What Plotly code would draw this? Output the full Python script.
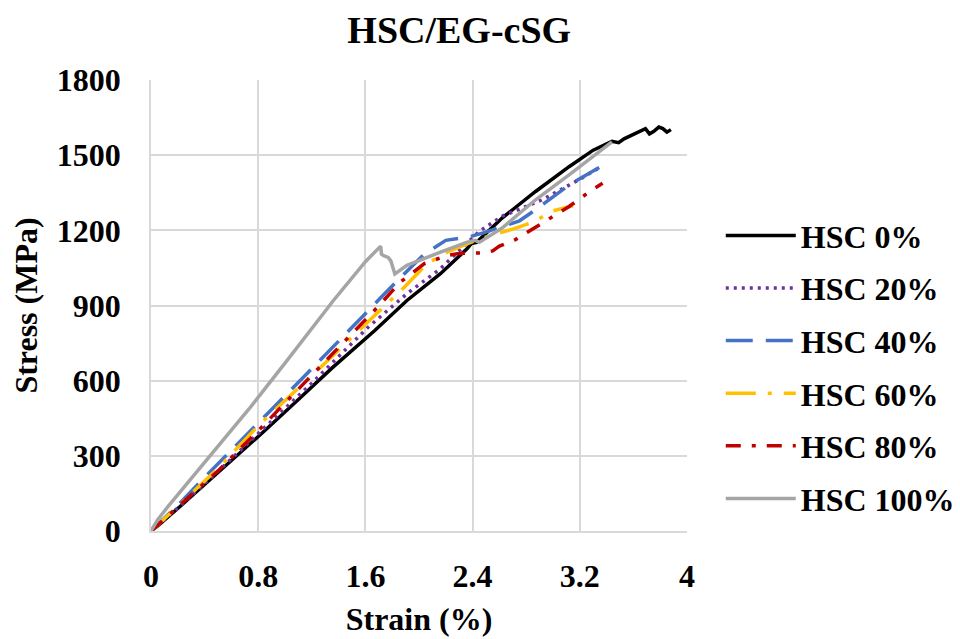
import plotly.graph_objects as go

# ---- data ----
series_names = ["HSC 0%", "HSC 20%", "HSC 40%", "HSC 60%", "HSC 80%", "HSC 100%"]

strain_0 = [0, 0.05, 0.2, 0.4, 0.6, 0.85, 1.1, 1.35, 1.67, 1.91, 2.16, 2.36, 2.39, 2.43, 2.62,
            2.87, 3.12, 3.3, 3.44, 3.49, 3.53, 3.58, 3.62, 3.66, 3.69, 3.72, 3.75, 3.79, 3.82, 3.85, 3.88]
stress_0 = [0, 20, 90, 185, 280, 401, 525, 650, 800, 920, 1027, 1127, 1147, 1152, 1249,
            1355, 1454, 1520, 1555, 1550, 1565, 1578, 1590, 1600, 1606, 1585, 1594, 1612, 1606, 1592, 1602]

strain_20 = [0, 0.2, 0.5, 0.85, 1.2, 1.62, 1.91, 2.16, 2.28, 2.36, 2.45, 2.62, 2.92, 3.19, 3.36]
stress_20 = [0, 92, 238, 415, 590, 813, 947, 1047, 1107, 1147, 1196, 1256, 1322, 1401, 1454]

strain_40 = [0, 0.2, 0.42, 0.83, 1.13, 1.45, 1.72, 1.84, 2.04, 2.2, 2.38, 2.48, 2.75, 2.87, 3.12, 3.35]
stress_40 = [0, 102, 225, 445, 610, 785, 935, 1000, 1105, 1160, 1175, 1190, 1238, 1282, 1381, 1452]

strain_60 = [0, 0.2, 0.5, 0.8, 1.2, 1.64, 1.89, 2.06, 2.21, 2.33, 2.45, 2.7, 2.85, 3.0, 3.15]
stress_60 = [0, 98, 250, 420, 620, 847, 973, 1067, 1113, 1140, 1165, 1205, 1233, 1278, 1298]

strain_80 = [0, 0.2, 0.5, 0.8, 1.0, 1.34, 1.69, 1.86, 2.04, 2.21, 2.3, 2.48, 2.55, 2.6, 2.72,
             2.92, 3.12, 3.29, 3.37]
stress_80 = [0, 95, 240, 400, 510, 700, 893, 993, 1067, 1100, 1108, 1110, 1118, 1137, 1163,
             1229, 1295, 1361, 1388]

strain_100 = [0, 0.05, 0.12, 0.4, 0.733, 1.0, 1.36, 1.6, 1.714, 1.72, 1.74, 1.77, 1.79, 1.82, 1.86,
              1.91, 2.16, 2.36, 2.42, 2.45, 2.62, 2.87, 3.12, 3.3, 3.44]
stress_100 = [0, 45, 93, 275, 488, 670, 919, 1075, 1137, 1105, 1098, 1092, 1078, 1026, 1040,
              1060, 1113, 1153, 1160, 1152, 1209, 1322, 1421, 1495, 1553]

x_ticks = [0, 0.8, 1.6, 2.4, 3.2, 4]
x_tick_labels = ["0", "0.8", "1.6", "2.4", "3.2", "4"]
y_ticks = [0, 300, 600, 900, 1200, 1500, 1800]
y_tick_labels = ["0", "300", "600", "900", "1200", "1500", "1800"]

strains = [strain_0, strain_20, strain_40, strain_60, strain_80, strain_100]
stresses = [stress_0, stress_20, stress_40, stress_60, stress_80, stress_100]

# ---- styles ----
colors = ["#000000", "#7030A0", "#4472C4", "#FFC000", "#C00000", "#A5A5A5"]
dashes = ["solid", "3px,5px", "27px,13px", "30px,12px,4px,12px", "15px,11px,4px,11px", "solid"]

FONT = "Liberation Serif"

fig = go.Figure()
for i, name in enumerate(series_names):
    fig.add_trace(go.Scatter(
        x=strains[i], y=stresses[i], mode="lines", name=name,
        legendgroup=name,
        line=dict(color=colors[i], width=3.5, dash=dashes[i]),
    ))

# the page body has an 8px margin, so the figure is 8px smaller than the window
fig.update_layout(
    width=952, height=631,
    margin=dict(l=143, r=273, t=72, b=108, autoexpand=False),
    paper_bgcolor="white", plot_bgcolor="white",
    font=dict(family=FONT, size=32, color="black", weight="bold"),
    title=dict(text="HSC/EG-cSG", x=0.474, xref="container", xanchor="center",
               y=0.9655, yref="container", yanchor="middle",
               font=dict(family=FONT, size=38, color="black", weight="bold")),
    showlegend=True,
    legend=dict(x=1.063, xanchor="left", y=0.716, yanchor="top",
                font=dict(family=FONT, size=32, color="black", weight="bold"),
                itemwidth=70, tracegroupgap=8, bgcolor="rgba(0,0,0,0)"),
)
fig.update_xaxes(
    range=[0, 4], tickmode="array", tickvals=x_ticks, ticktext=x_tick_labels,
    showgrid=True, gridcolor="#D9D9D9", gridwidth=1.5, zeroline=False,
    showline=True, linecolor="#D9D9D9", linewidth=1.5, mirror=False,
    ticks="", ticklabelstandoff=16, automargin=False,
    title=dict(text="Strain (%)", standoff=14, font=dict(family=FONT, size=32, weight="bold")),
)
fig.update_yaxes(
    range=[0, 1800], tickmode="array", tickvals=y_ticks, ticktext=y_tick_labels,
    showgrid=True, gridcolor="#D9D9D9", gridwidth=1.5, zeroline=False,
    showline=True, linecolor="#D9D9D9", linewidth=1.5,
    ticks="", ticklabelstandoff=22, automargin=False,
    title=dict(text="Stress (MPa)", standoff=10, font=dict(family=FONT, size=32, weight="bold")),
)

fig.write_html("out.html")
